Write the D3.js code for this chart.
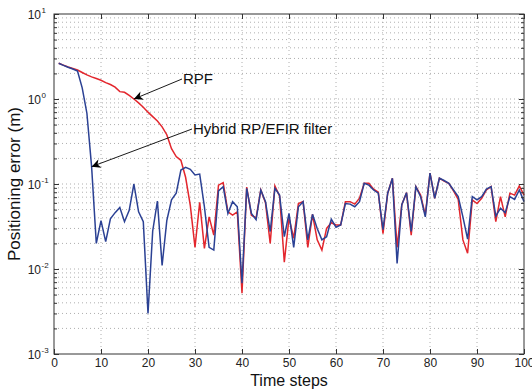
<!DOCTYPE html>
<html>
<head>
<meta charset="utf-8">
<script src="https://cdn.jsdelivr.net/npm/d3@7"></script>
<style>
  body { margin: 0; background: #fff; }
  svg { font-family: "Liberation Sans", Arial, sans-serif; }
</style>
</head>
<body>
<script>
// values
var steps = d3.range(1, 101);

var rpf = [2.63, 2.5, 2.38, 2.28, 2.19, 2.05, 1.92, 1.82, 1.74, 1.66,
  1.56, 1.48, 1.38, 1.22, 1.2, 1.1, 1.0, 0.9, 0.8, 0.7,
  0.62, 0.55, 0.47, 0.38, 0.26, 0.21, 0.19, 0.12, 0.056, 0.018,
  0.061, 0.0175, 0.041, 0.025, 0.097, 0.104, 0.047, 0.043, 0.047, 0.0052,
  0.092, 0.043, 0.040, 0.085, 0.06, 0.020, 0.095, 0.072, 0.012, 0.040,
  0.023, 0.059, 0.062, 0.018, 0.044, 0.022, 0.0167, 0.030, 0.035, 0.033,
  0.033, 0.062, 0.062, 0.058, 0.068, 0.102, 0.102, 0.087, 0.080, 0.026,
  0.078, 0.117, 0.018, 0.057, 0.079, 0.025, 0.093, 0.074, 0.043, 0.134,
  0.068, 0.117, 0.108, 0.102, 0.083, 0.066, 0.022, 0.0153, 0.065, 0.059,
  0.068, 0.085, 0.093, 0.036, 0.071, 0.041, 0.078, 0.074, 0.095, 0.074];

var hybrid = [2.63, 2.49, 2.36, 2.25, 2.13, 1.35, 0.68, 0.16, 0.020, 0.037,
  0.021, 0.039, 0.046, 0.053, 0.036, 0.049, 0.10, 0.047, 0.036, 0.003,
  0.028, 0.063, 0.011, 0.037, 0.065, 0.078, 0.146, 0.157, 0.149, 0.128,
  0.131, 0.054, 0.018, 0.0167, 0.083, 0.093, 0.045, 0.062, 0.054, 0.0068,
  0.089, 0.045, 0.038, 0.085, 0.062, 0.0276, 0.089, 0.074, 0.024, 0.045,
  0.018, 0.054, 0.062, 0.022, 0.044, 0.030, 0.022, 0.024, 0.0385, 0.031,
  0.033, 0.059, 0.058, 0.054, 0.062, 0.102, 0.097, 0.085, 0.078, 0.029,
  0.078, 0.117, 0.0116, 0.057, 0.079, 0.0276, 0.093, 0.071, 0.041, 0.134,
  0.068, 0.117, 0.11, 0.102, 0.085, 0.071, 0.041, 0.0225, 0.071, 0.065,
  0.071, 0.087, 0.093, 0.042, 0.052, 0.046, 0.071, 0.066, 0.085, 0.062];

var xTicks = [0, 10, 20, 30, 40, 50, 60, 70, 80, 90, 100];
var yExponents = [-3, -2, -1, 0, 1];

var width = 532, height = 389;
var margin = {left: 54, right: 8, top: 14, bottom: 35};

var svg = d3.select('body').append('svg')
  .attr('width', width)
  .attr('height', height);

var x = d3.scaleLinear().domain([0, 100]).range([margin.left, width - margin.right]);
var y = d3.scaleLog().domain([1e-3, 10]).range([height - margin.bottom, margin.top]);

// minor log positions for the grid
var minor = [];
yExponents.slice(0, -1).forEach(function(e) {
  for (var k = 2; k <= 9; k++) minor.push(k * Math.pow(10, e));
});
var majors = yExponents.map(function(e) { return Math.pow(10, e); });

var grid = svg.append('g')
  .attr('stroke', '#9a9a9a')
  .attr('stroke-width', 0.8)
  .attr('stroke-dasharray', '1,3');

grid.selectAll('.hg').data(minor.concat(majors.slice(1, -1))).enter().append('line')
  .attr('x1', x(0)).attr('x2', x(100))
  .attr('y1', function(d) { return y(d); })
  .attr('y2', function(d) { return y(d); });

grid.selectAll('.vg').data(xTicks.slice(1, -1)).enter().append('line')
  .attr('y1', y(10)).attr('y2', y(1e-3))
  .attr('x1', function(d) { return x(d); })
  .attr('x2', function(d) { return x(d); });

var line = d3.line()
  .x(function(d) { return x(d[0]); })
  .y(function(d) { return y(d[1]); });

svg.append('path')
  .datum(d3.zip(steps, rpf))
  .attr('fill', 'none')
  .attr('stroke', '#e3262d')
  .attr('stroke-width', 1.5)
  .attr('d', line);

svg.append('path')
  .datum(d3.zip(steps, hybrid))
  .attr('fill', 'none')
  .attr('stroke', '#2b4194')
  .attr('stroke-width', 1.5)
  .attr('d', line);

// axes box, ticks pointing inward like matlab
var axisColor = '#333';
svg.append('rect')
  .attr('x', x(0)).attr('y', y(10))
  .attr('width', x(100) - x(0))
  .attr('height', y(1e-3) - y(10))
  .attr('fill', 'none')
  .attr('stroke', axisColor)
  .attr('stroke-width', 1);

var bottomAxis = d3.axisBottom(x).tickValues(xTicks).tickSize(-5).tickPadding(4);
var gx = svg.append('g')
  .attr('transform', 'translate(0,' + y(1e-3) + ')')
  .call(bottomAxis);
gx.select('.domain').remove();
gx.selectAll('text').attr('font-size', 12).attr('fill', '#222');
gx.selectAll('line').attr('stroke', axisColor);

var topAxis = d3.axisTop(x).tickValues(xTicks).tickSize(-5).tickFormat('');
var gt = svg.append('g')
  .attr('transform', 'translate(0,' + y(10) + ')')
  .call(topAxis);
gt.select('.domain').remove();
gt.selectAll('line').attr('stroke', axisColor);

var leftAxis = d3.axisLeft(y).tickValues(majors).tickSize(-5).tickFormat('');
var gl = svg.append('g').attr('transform', 'translate(' + x(0) + ',0)').call(leftAxis);
gl.select('.domain').remove();
gl.selectAll('line').attr('stroke', axisColor);

var leftMinor = d3.axisLeft(y).tickValues(minor).tickSize(-3).tickFormat('');
var glm = svg.append('g').attr('transform', 'translate(' + x(0) + ',0)').call(leftMinor);
glm.select('.domain').remove();
glm.selectAll('line').attr('stroke', axisColor);

var rightAxis = d3.axisRight(y).tickValues(majors).tickSize(-5).tickFormat('');
var gr = svg.append('g').attr('transform', 'translate(' + x(100) + ',0)').call(rightAxis);
gr.select('.domain').remove();
gr.selectAll('line').attr('stroke', axisColor);

var rightMinor = d3.axisRight(y).tickValues(minor).tickSize(-3).tickFormat('');
var grm = svg.append('g').attr('transform', 'translate(' + x(100) + ',0)').call(rightMinor);
grm.select('.domain').remove();
grm.selectAll('line').attr('stroke', axisColor);

// y tick labels as 10^n
var ylab = svg.append('g').attr('fill', '#222');
yExponents.forEach(function(e) {
  ylab.append('text')
    .attr('x', 41)
    .attr('y', y(Math.pow(10, e)) + 5)
    .attr('text-anchor', 'end')
    .attr('font-size', 12)
    .text('10');
  ylab.append('text')
    .attr('x', 41.5)
    .attr('y', y(Math.pow(10, e)) - 1)
    .attr('font-size', 8)
    .text(e);
});

svg.append('text')
  .attr('x', x(50))
  .attr('y', 386)
  .attr('text-anchor', 'middle')
  .attr('font-size', 16)
  .attr('fill', '#111')
  .text('Time steps');

svg.append('text')
  .attr('transform', 'translate(20,' + ((y(10) + y(1e-3)) / 2) + ') rotate(-90)')
  .attr('text-anchor', 'middle')
  .attr('font-size', 17)
  .attr('fill', '#111')
  .text('Positioning error (m)');

// annotations with arrows
var defs = svg.append('defs');
defs.append('marker')
  .attr('id', 'arrow')
  .attr('viewBox', '0 0 10 10')
  .attr('refX', 10).attr('refY', 5)
  .attr('markerWidth', 12).attr('markerHeight', 9)
  .attr('markerUnits', 'userSpaceOnUse')
  .attr('orient', 'auto')
  .append('path')
  .attr('d', 'M0,0 L10,5 L0,10 L3,5 Z')
  .attr('fill', '#000');

var notes = [
  {label: 'RPF', step: 17, value: rpf[16], tx: 183, ty: 79},
  {label: 'Hybrid RP/EFIR filter', step: 8, value: hybrid[7], tx: 193, ty: 129}
];

notes.forEach(function(n) {
  svg.append('line')
    .attr('x1', n.tx - 1).attr('y1', n.ty)
    .attr('x2', x(n.step)).attr('y2', y(n.value))
    .attr('stroke', '#000')
    .attr('stroke-width', 0.9)
    .attr('marker-end', 'url(#arrow)');
  svg.append('text')
    .attr('x', n.tx)
    .attr('y', n.ty + 5)
    .attr('font-size', 15)
    .attr('fill', '#111')
    .text(n.label);
});
</script>
</body>
</html>
